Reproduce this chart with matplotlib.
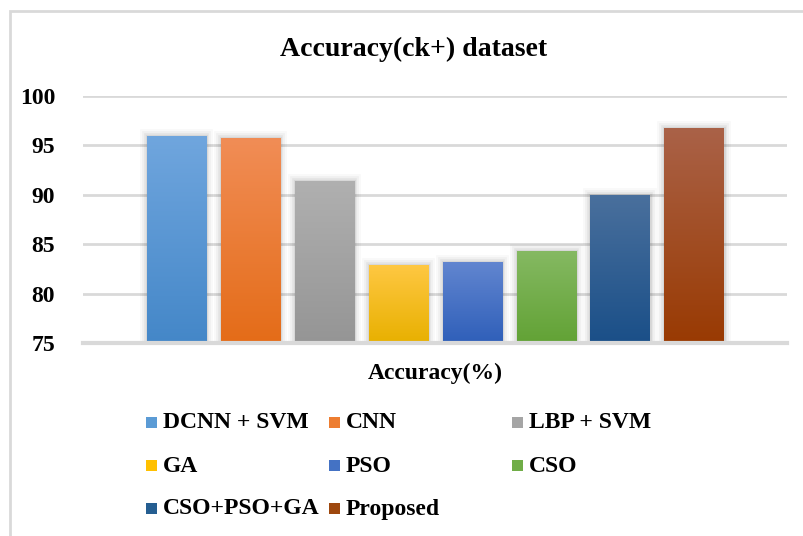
import numpy as np
import matplotlib
matplotlib.use("Agg")
import matplotlib.pyplot as plt
import matplotlib.colors as mcolors
from matplotlib.patches import Rectangle

# Accuracy on the CK+ dataset, one bar per method
methods = ["DCNN + SVM", "CNN", "LBP + SVM", "GA", "PSO", "CSO",
           "CSO+PSO+GA", "Proposed"]
accuracy = [96.0, 95.7, 91.4, 82.9, 83.2, 84.3, 90.0, 96.8]
yticks = [75, 80, 85, 90, 95, 100]

# Office-style fills: legend swatch, gradient top, gradient bottom
base_colors = ["#5b9bd5", "#ed7d31", "#a5a5a5", "#ffc000",
               "#4472c4", "#70ad47", "#255e91", "#9e480e"]
top_colors = ["#70a6de", "#f18d56", "#b0b0b0", "#ffc843",
              "#6286d0", "#85b962", "#4a709d", "#aa6248"]
bottom_colors = ["#4487c8", "#e46c18", "#959595", "#e8b000",
                 "#2f5fb9", "#62a235", "#1a4f88", "#993a02"]

plt.rcParams["font.family"] = ["Liberation Serif", "DejaVu Serif"]
plt.rcParams["font.weight"] = "bold"

W, H = 804, 536
fig = plt.figure(figsize=(W / 100, H / 100), dpi=100, facecolor="white")


def fx(px):
    return px / W


def fy(py):
    return 1 - py / H


ax = fig.add_axes([fx(83), fy(343), fx(787) - fx(83), fy(96) - fy(343)])
ax.set_facecolor("white")

x = np.arange(len(methods))

# soft grey shadow: widening translucent outlines behind the bars
for lw, a in [(10, 0.025), (7, 0.035), (4, 0.05), (2, 0.06)]:
    ax.bar(x, accuracy, width=0.8, color="none",
           edgecolor=(0, 0, 0, a), linewidth=lw, zorder=1.5)

bars = ax.bar(x, accuracy, width=0.8, color=base_colors,
              zorder=2, linewidth=0)

# vertical gradient inside each bar
ramp = np.linspace(0, 1, 256)[:, None]
for b, c_top, c_bot in zip(bars, top_colors, bottom_colors):
    cmap = mcolors.LinearSegmentedColormap.from_list("g", [c_bot, c_top])
    x0 = b.get_x()
    x1 = x0 + b.get_width()
    im = ax.imshow(ramp, cmap=cmap, origin="lower", aspect="auto",
                   extent=[x0, x1, 75, b.get_height()], zorder=3,
                   interpolation="bilinear")
    im.set_clip_path(b)

ax.set_xlim(-1.264, 8.258)
ax.set_ylim(75, 100)
ax.set_yticks(yticks)
ax.set_yticklabels([str(t) for t in yticks], fontsize=17, fontweight="bold")
ax.set_xticks([])
ax.tick_params(axis="y", length=0, pad=20)
ax.grid(axis="y", color="#d9d9d9", linewidth=2, zorder=0)
ax.set_axisbelow(True)
for side in ["left", "right", "top"]:
    ax.spines[side].set_visible(False)
ax.spines["bottom"].set_color("#d9d9d9")
ax.spines["bottom"].set_linewidth(3)
ax.spines["bottom"].set_zorder(4)

fig.text(fx(414), fy(49), "Accuracy(ck+) dataset", fontsize=20,
         fontweight="bold", ha="center", va="center")
fig.text(fx(435), fy(373), "Accuracy(%)", fontsize=17, fontweight="bold",
         ha="center", va="center")

# legend laid out in three equal-width columns
for i, (name, col) in enumerate(zip(methods, base_colors)):
    row, c = divmod(i, 3)
    left = 146 + 183 * c
    yc = 422 + 43 * row
    fig.add_artist(Rectangle((fx(left), fy(yc + 5.5)), fx(11), 11 / H,
                             transform=fig.transFigure, facecolor=col,
                             edgecolor="none"))
    fig.text(fx(left + 17), fy(yc + 1), name, fontsize=17, fontweight="bold",
             ha="left", va="center")

# outer chart frame
fig.add_artist(Rectangle((fx(10), -0.1), 1.2, fy(11) + 0.1,
                         transform=fig.transFigure, fill=False,
                         edgecolor="#d9d9d9", linewidth=2))

fig.savefig("out.png", dpi=100, facecolor="white")
